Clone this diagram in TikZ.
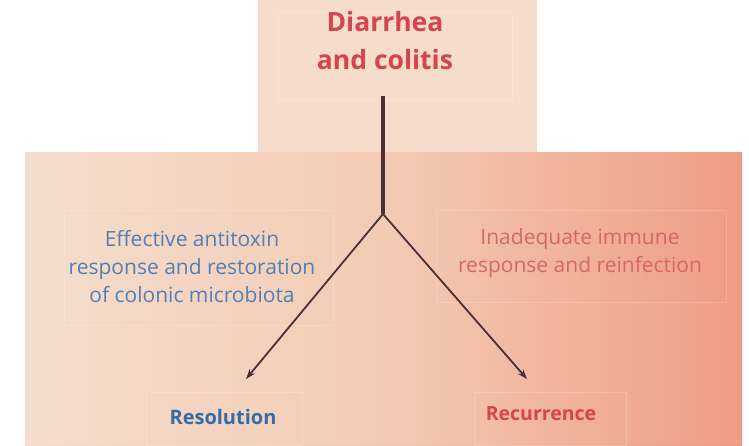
\documentclass[tikz,border=0pt]{standalone}
\usepackage{fontspec}
\setmainfont{Open Sans}
\usetikzlibrary{arrows.meta}
\definecolor{peachtop}{RGB}{246,220,203}
\definecolor{peachL}{RGB}{245,220,202}
\definecolor{peachM}{RGB}{243,200,176}
\definecolor{salmonR}{RGB}{238,150,124}
\definecolor{titlered}{RGB}{214,68,78}
\definecolor{txtblue}{RGB}{80,128,182}
\definecolor{txtpink}{RGB}{214,102,106}
\definecolor{resblue}{RGB}{52,108,168}
\definecolor{recred}{RGB}{212,70,74}
\definecolor{stemcol}{RGB}{76,48,54}
\tikzset{
  x=1pt, y=-1pt,
  lbl/.style={align=center, inner sep=0pt, font=\fontsize{21}{28}\selectfont},
  outcome/.style={inner sep=0pt, font=\fontsize{20}{22}\selectfont\bfseries},
  faintbox/.style={draw=white, draw opacity=0.18, line width=0.8pt},
  arr/.style={draw=stemcol, line width=1.8pt, -{Stealth[length=10pt,width=7pt]}},
}
\begin{document}
\begin{tikzpicture}
\useasboundingbox (0,0) rectangle (749,445);
% backgrounds
\fill[peachtop] (258,0) rectangle (537,153);
\shade[left color=peachL, right color=salmonR, middle color=peachM] (25,152) rectangle (742,445);
\fill[white, opacity=0.25] (25,152) rectangle (742,445);
\shade[left color=peachL, right color=salmonR, middle color=peachM, opacity=0.75] (25,152) rectangle (742,445);
% faint boxes
\draw[faintbox] (64,210) rectangle (333,325);
\draw[faintbox] (436,210) rectangle (726,302);
\draw[faintbox] (146,392) rectangle (302,445);
\draw[faintbox] (474,392) rectangle (626,445);
\draw[faintbox] (278,12) rectangle (512,100);
% nodes
\node[lbl, font=\fontsize{26.5}{38}\selectfont\bfseries, text=titlered] (top) at (385,41) {Diarrhea\\and colitis};
\node[lbl, text=txtblue] (eff) at (192,267) {Effective antitoxin\\response and restoration\\of colonic microbiota};
\node[lbl, text=txtpink] (inad) at (580,253) {Inadequate immune\\response and reinfection};
\node[outcome, text=resblue] (res) at (223,417) {Resolution};
\node[outcome, font=\fontsize{19.5}{22}\selectfont\bfseries, text=recred] (rec) at (541,414) {Recurrence};
% connectors
\coordinate (stem) at (383,96);
\coordinate (j) at (383,214);
\coordinate (tipL) at (246,379);
\coordinate (tipR) at (527,379);
\draw[stemcol, line width=3.6pt] (stem) -- (j);
\draw[arr] (j) -- (tipL);
\draw[arr] (j) -- (tipR);
\end{tikzpicture}
\end{document}
